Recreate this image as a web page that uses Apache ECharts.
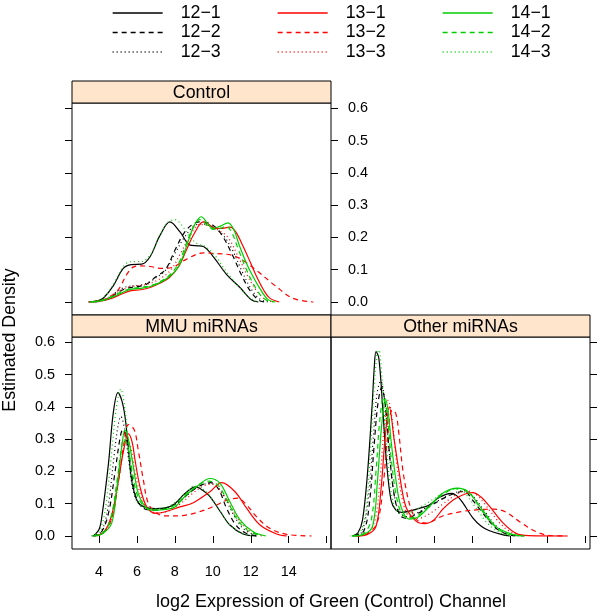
<!DOCTYPE html>
<html><head><meta charset="utf-8">
<script src="https://cdn.jsdelivr.net/npm/echarts@6/dist/echarts.min.js"></script>
<style>html,body{margin:0;padding:0;background:#fff}#c{width:600px;height:613px}</style>
</head><body><div id="c"></div>
<script>
// ---------- DATA (x = log2 expression, y = estimated density) ----------
const seriesNames = ['12\u22121','12\u22122','12\u22123','13\u22121','13\u22122','13\u22123','14\u22121','14\u22122','14\u22123'];
const panelNames = ['Control','MMU miRNAs','Other miRNAs'];
const xTickValues = [4,6,8,10,12,14,16];
const xLabelValues = [4,6,8,10,12,14];
const yTickValues = [0,0.1,0.2,0.3,0.4,0.5,0.6];

// Control panel
const c12_1 = [[3.45,0],[4.0,0.005],[4.25,0.013],[4.75,0.05],[5.28,0.104],[5.7,0.116],[6.25,0.117],[6.69,0.14],[7.22,0.207],[7.74,0.248],[8.27,0.217],[8.8,0.176],[9.2,0.174],[9.5,0.172],[10.03,0.14],[10.73,0.085],[11.43,0.045],[12.05,0.006],[12.4,0]];
const c12_2 = [[3.8,0],[4.5,0.01],[5.0,0.03],[5.5,0.043],[6.0,0.047],[6.5,0.055],[7.0,0.078],[7.5,0.1],[8.0,0.16],[8.5,0.215],[9.0,0.243],[9.4,0.248],[10.0,0.238],[10.5,0.205],[11.0,0.15],[11.5,0.085],[12.0,0.032],[12.5,0.003],[12.8,0]];
const c12_3 = [[3.7,0],[4.4,0.01],[5.0,0.035],[5.5,0.048],[6.0,0.05],[6.5,0.058],[7.0,0.075],[7.5,0.098],[8.0,0.15],[8.5,0.2],[9.0,0.235],[9.4,0.242],[10.0,0.232],[10.5,0.21],[11.0,0.165],[11.5,0.1],[12.0,0.042],[12.5,0.008],[13.0,0]];
const c13_1 = [[3.44,0],[4.2,0.004],[4.7,0.012],[5.2,0.025],[5.7,0.035],[6.2,0.038],[6.7,0.045],[7.2,0.058],[7.7,0.075],[8.2,0.11],[8.6,0.16],[9.0,0.21],[9.5,0.248],[9.8,0.24],[10.1,0.228],[10.5,0.228],[10.9,0.232],[11.2,0.218],[11.6,0.172],[12.0,0.12],[12.3,0.08],[12.7,0.035],[13.0,0.012],[13.5,0]];
const c13_2 = [[3.7,0],[4.3,0.008],[4.8,0.025],[5.1,0.045],[5.46,0.085],[5.8,0.108],[6.2,0.112],[6.7,0.11],[7.3,0.104],[7.9,0.108],[8.6,0.132],[9.5,0.152],[10.2,0.15],[11.0,0.145],[11.5,0.132],[12.3,0.098],[13.3,0.05],[14.2,0.012],[15.3,0]];
const c13_3 = [[3.6,0],[4.3,0.008],[4.8,0.025],[5.3,0.04],[5.8,0.05],[6.3,0.052],[6.8,0.06],[7.3,0.075],[7.8,0.1],[8.3,0.15],[8.8,0.205],[9.3,0.24],[9.8,0.235],[10.3,0.222],[10.8,0.2],[11.3,0.145],[11.8,0.085],[12.3,0.035],[12.8,0.006],[13.2,0]];
const c14_1 = [[3.5,0],[4.2,0.005],[4.7,0.015],[5.2,0.028],[5.7,0.04],[6.2,0.042],[6.7,0.048],[7.2,0.06],[7.7,0.078],[8.2,0.11],[8.6,0.17],[9.0,0.235],[9.4,0.264],[9.7,0.245],[10.0,0.228],[10.4,0.235],[10.8,0.245],[11.1,0.225],[11.4,0.175],[11.7,0.13],[12.0,0.092],[12.5,0.04],[12.9,0.008],[13.3,0]];
const c14_2 = [[3.6,0],[4.2,0.006],[4.7,0.018],[5.2,0.032],[5.7,0.042],[6.2,0.045],[6.7,0.05],[7.2,0.062],[7.7,0.082],[8.2,0.12],[8.6,0.18],[9.0,0.235],[9.3,0.255],[9.7,0.238],[10.0,0.225],[10.4,0.228],[10.7,0.235],[11.0,0.215],[11.3,0.17],[11.7,0.11],[12.1,0.06],[12.5,0.022],[12.9,0.003],[13.2,0]];
const c14_3 = [[3.5,0],[4.0,0.006],[4.5,0.03],[5.0,0.08],[5.4,0.118],[5.8,0.125],[6.2,0.125],[6.7,0.145],[7.2,0.205],[7.6,0.245],[8.0,0.255],[8.4,0.235],[8.8,0.2],[9.2,0.18],[9.6,0.172],[10.1,0.145],[10.7,0.095],[11.3,0.052],[11.9,0.015],[12.4,0]];

// MMU miRNAs panel
const m12_1 = [[3.7,0],[4.0,0.02],[4.15,0.06],[4.5,0.225],[4.75,0.38],[5.0,0.444],[5.2,0.42],[5.37,0.37],[5.54,0.277],[5.72,0.173],[6.0,0.111],[6.35,0.091],[7.0,0.085],[7.5,0.087],[8.0,0.1],[8.5,0.13],[9.1,0.152],[9.5,0.14],[9.85,0.122],[10.4,0.075],[10.9,0.034],[11.6,0.006],[12.3,0]];
const m12_2 = [[3.7,0],[4.1,0.01],[4.5,0.07],[4.85,0.2],[5.1,0.3],[5.25,0.33],[5.45,0.3],[5.7,0.2],[5.95,0.12],[6.3,0.088],[6.8,0.08],[7.5,0.085],[8.2,0.105],[8.8,0.135],[9.4,0.158],[9.9,0.165],[10.3,0.145],[10.73,0.085],[11.2,0.035],[11.7,0.01],[12.3,0]];
const m12_3 = [[3.65,0],[4.1,0.012],[4.45,0.08],[4.8,0.25],[5.0,0.34],[5.15,0.37],[5.35,0.33],[5.6,0.22],[5.85,0.13],[6.2,0.093],[6.7,0.083],[7.4,0.085],[8.1,0.1],[8.7,0.13],[9.3,0.155],[9.8,0.163],[10.2,0.155],[10.7,0.11],[11.2,0.055],[11.7,0.018],[12.4,0]];
const m13_1 = [[3.9,0],[4.3,0.015],[4.67,0.065],[5.02,0.17],[5.28,0.26],[5.55,0.316],[5.75,0.29],[5.9,0.235],[6.16,0.153],[6.51,0.091],[7.0,0.07],[7.5,0.075],[8.27,0.09],[8.97,0.103],[9.85,0.137],[10.47,0.165],[11.17,0.137],[11.78,0.086],[12.49,0.034],[13.37,0.006],[13.9,0]];
const m13_2 = [[3.8,0],[4.3,0.015],[4.7,0.06],[5.0,0.16],[5.3,0.28],[5.55,0.345],[5.85,0.33],[6.07,0.266],[6.34,0.173],[6.6,0.101],[7.0,0.072],[7.5,0.062],[8.3,0.063],[9.3,0.075],[10.2,0.096],[10.7,0.11],[11.3,0.117],[11.8,0.095],[12.3,0.06],[13.0,0.024],[13.9,0.005],[15.2,0]];
const m13_3 = [[3.8,0],[4.3,0.012],[4.7,0.06],[5.05,0.18],[5.3,0.27],[5.45,0.295],[5.65,0.28],[5.9,0.2],[6.2,0.125],[6.6,0.083],[7.1,0.072],[7.7,0.078],[8.3,0.1],[8.9,0.13],[9.5,0.155],[9.9,0.16],[10.3,0.148],[10.8,0.105],[11.3,0.055],[11.9,0.018],[12.6,0]];
const m14_1 = [[3.7,0],[4.2,0.008],[4.67,0.04],[4.93,0.142],[5.2,0.276],[5.37,0.328],[5.55,0.3],[5.81,0.215],[6.07,0.132],[6.51,0.086],[6.9,0.08],[7.5,0.082],[8.0,0.09],[8.6,0.127],[9.15,0.153],[9.85,0.178],[10.38,0.163],[10.9,0.106],[11.43,0.05],[12.13,0.013],[12.8,0]];
const m14_2 = [[3.7,0],[4.2,0.01],[4.6,0.05],[4.95,0.17],[5.15,0.26],[5.3,0.3],[5.5,0.28],[5.75,0.2],[6.0,0.13],[6.4,0.09],[6.9,0.08],[7.5,0.083],[8.1,0.1],[8.7,0.135],[9.3,0.16],[9.8,0.17],[10.3,0.155],[10.8,0.105],[11.3,0.05],[11.9,0.015],[12.6,0]];
const m14_3 = [[3.6,0],[4.0,0.015],[4.3,0.07],[4.6,0.22],[4.9,0.39],[5.15,0.455],[5.35,0.4],[5.55,0.28],[5.75,0.17],[6.0,0.11],[6.4,0.088],[7.0,0.085],[7.6,0.09],[8.2,0.112],[8.7,0.14],[9.0,0.155],[9.4,0.148],[9.9,0.12],[10.4,0.075],[10.9,0.035],[11.5,0.008],[12.2,0]];

// Other miRNAs panel
const o12_1 = [[3.7,0],[4.0,0.01],[4.24,0.05],[4.5,0.194],[4.74,0.4],[4.86,0.524],[4.95,0.571],[5.1,0.55],[5.3,0.4],[5.48,0.245],[5.74,0.111],[6.0,0.08],[6.3,0.073],[6.9,0.08],[7.5,0.09],[7.76,0.096],[8.3,0.12],[8.9,0.132],[9.2,0.125],[9.51,0.104],[10.04,0.057],[10.5,0.03],[10.9,0.017],[11.6,0.004],[12.0,0]];
const o12_2 = [[3.8,0],[4.3,0.015],[4.6,0.1],[4.85,0.28],[5.05,0.41],[5.25,0.46],[5.45,0.4],[5.65,0.26],[5.9,0.13],[6.2,0.065],[6.5,0.055],[7.0,0.065],[7.6,0.085],[8.3,0.11],[9.0,0.13],[9.6,0.138],[10.04,0.111],[10.66,0.065],[11.27,0.024],[11.9,0.005],[12.5,0]];
const o12_3 = [[3.75,0],[4.2,0.012],[4.55,0.12],[4.8,0.3],[5.0,0.44],[5.2,0.48],[5.4,0.42],[5.6,0.29],[5.85,0.15],[6.15,0.075],[6.5,0.06],[7.0,0.068],[7.6,0.088],[8.3,0.112],[9.0,0.132],[9.6,0.14],[10.1,0.12],[10.7,0.075],[11.3,0.03],[12.0,0.006],[12.7,0]];
const o13_1 = [[3.9,0],[4.5,0.005],[4.95,0.03],[5.21,0.142],[5.42,0.297],[5.65,0.40],[5.91,0.297],[6.18,0.194],[6.53,0.09],[7.06,0.046],[7.5,0.038],[8.0,0.05],[8.5,0.085],[9.17,0.117],[10.04,0.134],[10.5,0.12],[10.92,0.093],[11.62,0.042],[12.33,0.008],[13.0,0.001],[15.05,0]];
const o13_2 = [[3.9,0],[4.5,0.008],[5.0,0.04],[5.3,0.14],[5.55,0.3],[5.8,0.39],[5.99,0.38],[6.15,0.32],[6.34,0.215],[6.55,0.14],[6.79,0.085],[7.1,0.05],[7.6,0.04],[8.46,0.062],[9.5,0.076],[10.5,0.082],[11.2,0.083],[11.8,0.074],[12.5,0.045],[13.4,0.013],[14.2,0.001],[15.0,0]];
const o13_3 = [[3.85,0],[4.5,0.008],[4.9,0.05],[5.15,0.17],[5.4,0.35],[5.6,0.42],[5.8,0.36],[6.05,0.22],[6.35,0.11],[6.7,0.06],[7.2,0.055],[7.8,0.07],[8.5,0.1],[9.1,0.125],[9.7,0.14],[10.2,0.13],[10.8,0.09],[11.4,0.045],[12.0,0.014],[12.8,0]];
const o14_1 = [[3.7,0],[4.3,0.005],[4.77,0.03],[5.03,0.173],[5.24,0.338],[5.45,0.425],[5.6,0.38],[5.74,0.297],[6.0,0.173],[6.27,0.09],[6.7,0.052],[7.15,0.058],[7.76,0.091],[8.46,0.132],[9.25,0.148],[9.87,0.132],[10.57,0.08],[11.27,0.029],[12.15,0.005],[12.8,0]];
const o14_2 = [[3.7,0],[4.3,0.008],[4.7,0.05],[4.95,0.2],[5.15,0.36],[5.35,0.43],[5.55,0.37],[5.75,0.24],[6.0,0.13],[6.3,0.07],[6.7,0.055],[7.2,0.065],[7.8,0.095],[8.5,0.13],[9.2,0.147],[9.8,0.138],[10.4,0.09],[11.0,0.042],[11.7,0.01],[12.5,0]];
const o14_3 = [[3.6,0],[4.1,0.012],[4.4,0.07],[4.65,0.26],[4.85,0.46],[5.0,0.56],[5.1,0.576],[5.25,0.5],[5.45,0.33],[5.65,0.18],[5.9,0.095],[6.2,0.07],[6.7,0.072],[7.3,0.09],[8.0,0.115],[8.7,0.14],[9.2,0.145],[9.7,0.128],[10.3,0.08],[10.9,0.035],[11.6,0.008],[12.3,0]];

const controlCurves = [c12_1,c12_2,c12_3,c13_1,c13_2,c13_3,c14_1,c14_2,c14_3];
const mmuCurves = [m12_1,m12_2,m12_3,m13_1,m13_2,m13_3,m14_1,m14_2,m14_3];
const otherCurves = [o12_1,o12_2,o12_3,o13_1,o13_2,o13_3,o14_1,o14_2,o14_3];

// ---------- STYLE ----------
const FONT = '"Liberation Sans", Arial, Helvetica, sans-serif';
const GREEN = '#00CD00';
const lineColors = ['#000000','#000000','#000000','#FF0000','#FF0000','#FF0000',GREEN,GREEN,GREEN];
const lineTypes = ['solid',[5,4],[1,3],'solid',[5,4],[1,3],'solid',[5,4],[1,3]];

const XMIN = 2.577, XMAX = 16.23, YMIN = -0.0403, YMAX = 0.6163;
const L = 72, W = 259, STRIP = 22;
const TOP0 = 103, H = 212, TOP1 = 337;

const grids = [
  {left: L, top: TOP0, width: W, height: H, show: true},
  {left: L, top: TOP1, width: W, height: H, show: true},
  {left: L + W, top: TOP1, width: W, height: H, show: true},
  {left: L, top: TOP0 - STRIP, width: W, height: STRIP, show: false}  // strip area of Control, carries top ticks
].map(g => Object.assign(g, {borderColor: '#000', borderWidth: 1, backgroundColor: 'transparent'}));

const tickLabelStyle = {color: '#000', fontFamily: FONT, fontSize: 14.4};
function xAx(gi, pos, withLabels) {
  return {
    type: 'value', gridIndex: gi, position: pos, min: XMIN, max: XMAX,
    axisLine: {show: false}, splitLine: {show: false},
    axisTick: {show: true, inside: false, length: 7, customValues: xTickValues, lineStyle: {color: '#000', width: 1}},
    axisLabel: Object.assign({show: withLabels, margin: 16, customValues: xLabelValues}, tickLabelStyle)
  };
}
function yAx(gi, pos, withLabels) {
  return {
    type: 'value', gridIndex: gi, position: pos, min: YMIN, max: YMAX,
    axisLine: {show: false}, splitLine: {show: false},
    axisTick: {show: true, inside: false, length: 7, customValues: yTickValues, lineStyle: {color: '#000', width: 1}},
    axisLabel: Object.assign({show: withLabels, margin: 17, customValues: yTickValues, formatter: v => v.toFixed(1)}, tickLabelStyle)
  };
}

const xAxes = [xAx(0, 'bottom', false), xAx(1, 'bottom', true), xAx(2, 'bottom', true), xAx(3, 'top', false)];
xAxes[0].axisTick.show = false;
xAxes[2].axisLabel.show = false;
const yAxes = [yAx(0, 'left', false), yAx(0, 'right', true), yAx(1, 'left', true), yAx(2, 'right', false), yAx(3, 'left', false)];
yAxes[4].axisTick.show = false;

const series = [];
[[controlCurves, 0, 0], [mmuCurves, 1, 2], [otherCurves, 2, 3]].forEach(([curves, xi, yi]) => {
  curves.forEach((pts, k) => {
    series.push({
      type: 'line', name: seriesNames[k], data: pts, xAxisIndex: xi, yAxisIndex: yi,
      showSymbol: false, symbol: 'none', smooth: 0.35, silent: true,
      color: lineColors[k],
      lineStyle: {color: lineColors[k], width: 1.2, type: lineTypes[k]},
      itemStyle: {color: lineColors[k]}
    });
  });
});

function legendCol(left, from) {
  const items = [0, 1, 2].map(j => ({
    name: seriesNames[from + j],
    itemStyle: {opacity: 0, borderWidth: 0},
    lineStyle: {color: lineColors[from + j], type: lineTypes[from + j], width: 1.3, opacity: 1}
  }));
  return {
    orient: 'vertical', left: left, top: -1, itemWidth: 50, itemHeight: 14, itemGap: 1.5,
    data: items, selectedMode: false,
    textStyle: {color: '#000', fontFamily: FONT, fontSize: 17.8, lineHeight: 18, padding: [0, 0, 0, 13]}
  };
}

const strips = [
  {x: L, y: TOP0 - STRIP, label: panelNames[0]},
  {x: L, y: TOP1 - STRIP, label: panelNames[1]},
  {x: L + W, y: TOP1 - STRIP, label: panelNames[2]}
];
const graphics = [];
strips.forEach(s => {
  graphics.push({type: 'rect', shape: {x: s.x, y: s.y, width: W, height: STRIP}, style: {fill: '#FFE5CC', stroke: '#000', lineWidth: 1}, z: 10});
  graphics.push({type: 'text', x: s.x + W / 2, y: s.y + STRIP / 2 + 1, style: {text: s.label, fill: '#000', font: '17.8px ' + FONT, align: 'center', verticalAlign: 'middle'}, z: 11});
});
graphics.push({type: 'text', x: 10, y: 340, rotation: Math.PI / 2, style: {text: 'Estimated Density', fill: '#000', font: '17.8px ' + FONT, align: 'center', verticalAlign: 'middle'}});
graphics.push({type: 'text', x: 331, y: 602, style: {text: 'log2 Expression of Green (Control) Channel', fill: '#000', font: '18px ' + FONT, align: 'center', verticalAlign: 'middle'}});

const chart = echarts.init(document.getElementById('c'), null, {renderer: 'canvas'});
chart.setOption({
  backgroundColor: '#fff',
  animation: false,
  legend: [legendCol(107, 0), legendCol(272, 3), legendCol(437, 6)],
  grid: grids,
  xAxis: xAxes,
  yAxis: yAxes,
  series: series,
  graphic: graphics
});
</script></body></html>
